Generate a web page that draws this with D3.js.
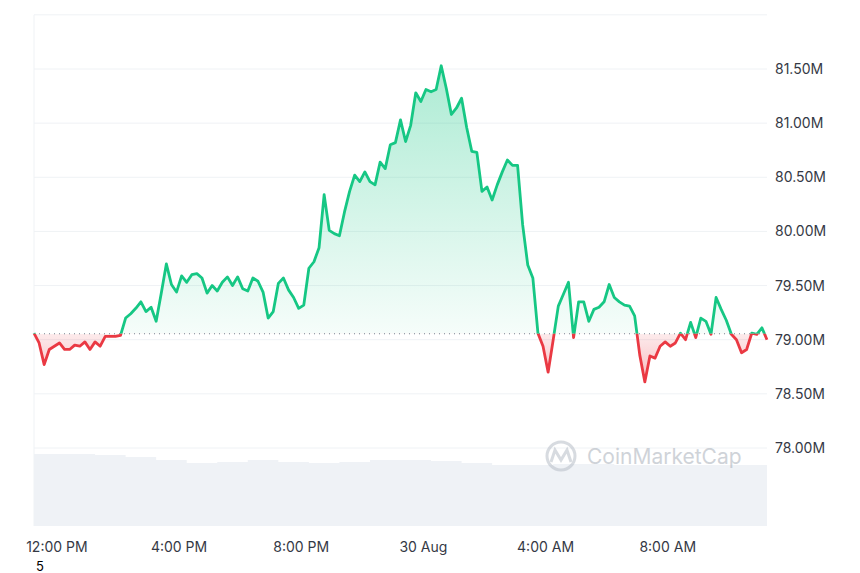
<!DOCTYPE html>
<html>
<head>
<meta charset="utf-8">
<script src="https://cdn.jsdelivr.net/npm/d3@7"></script>
<style>
  body { margin: 0; background: #fff; font-family: Inter, "Noto Sans", sans-serif; }
</style>
</head>
<body>
<div id="grafico"></div>
<script>
// precio cada 10 minutos, en millones
const precios = [79.06,78.97,78.77,78.91,78.94,78.97,78.91,78.91,78.95,78.94,78.98,78.91,78.98,78.94,79.03,79.03,79.03,79.04,79.20,79.24,
  79.29,79.35,79.26,79.30,79.17,79.43,79.70,79.51,79.44,79.59,79.53,79.60,79.61,79.57,79.43,79.50,79.45,79.53,79.58,79.50,
  79.58,79.47,79.45,79.57,79.54,79.44,79.20,79.26,79.52,79.57,79.46,79.39,79.29,79.32,79.66,79.72,79.85,80.34,80.01,79.98,
  79.96,80.18,80.37,80.52,80.46,80.55,80.46,80.43,80.64,80.58,80.80,80.82,81.03,80.83,80.98,81.28,81.20,81.31,81.29,81.31,
  81.53,81.32,81.08,81.14,81.23,80.96,80.74,80.73,80.37,80.41,80.29,80.43,80.55,80.66,80.61,80.61,80.06,79.69,79.57,79.06,
  78.94,78.70,79.00,79.31,79.42,79.53,79.02,79.35,79.35,79.17,79.28,79.30,79.35,79.51,79.39,79.35,79.32,79.31,79.22,78.86,
  78.61,78.85,78.83,78.94,78.98,78.94,78.97,79.06,79.00,79.16,79.02,79.20,79.17,79.05,79.39,79.28,79.18,79.05,79.00,78.88,
  78.91,79.06,79.05,79.11,79.00];
// volumen por hora (unidades relativas)
const volumen = [7.2,7.2,7.1,6.9,6.6,6.3,6.4,6.6,6.4,6.3,6.4,6.6,6.6,6.5,6.3,6.1,6.1,6.2,6.2,6.1,6.1,6.1,6.1,6.1,6.1];
const precioApertura = 79.055;
const ticksY = [78.0, 78.5, 79.0, 79.5, 80.0, 80.5, 81.0, 81.5, 82.0];
const inicio = new Date(2024, 7, 29, 11, 15);

const verde = '#16c784', rojo = '#ea3943';
const W = 860, H = 573;
const left = 34, right = 767, bottom = 526;

const datos = precios.map((p, i) => ({ t: new Date(+inicio + i * 600000), p }));
const datosVol = volumen.map((v, i) => ({ t: new Date(+inicio + i * 3600000), v }));

const x = d3.scaleTime().domain([inicio, datos[datos.length - 1].t]).range([left, right]);
const y = d3.scaleLinear().domain([78.0, 81.5]).range([448, 69]);
const yVol = d3.scaleLinear().domain([0, 7.3]).range([bottom, bottom - 73]);

const svg = d3.select('#grafico').append('svg').attr('width', W).attr('height', H);
const defs = svg.append('defs');

const gv = defs.append('linearGradient').attr('id', 'gv').attr('x1', 0).attr('x2', 0)
  .attr('gradientUnits', 'userSpaceOnUse').attr('y1', y(81.5)).attr('y2', y(precioApertura));
gv.append('stop').attr('offset', 0).attr('stop-color', verde).attr('stop-opacity', 0.35);
gv.append('stop').attr('offset', 1).attr('stop-color', verde).attr('stop-opacity', 0.04);
const gr = defs.append('linearGradient').attr('id', 'gr').attr('x1', 0).attr('x2', 0)
  .attr('gradientUnits', 'userSpaceOnUse').attr('y1', y(precioApertura)).attr('y2', y(78.6));
gr.append('stop').attr('offset', 0).attr('stop-color', rojo).attr('stop-opacity', 0.1);
gr.append('stop').attr('offset', 1).attr('stop-color', rojo).attr('stop-opacity', 0.35);

const yb = y(precioApertura);
defs.append('clipPath').attr('id', 'arriba').append('rect').attr('x', 0).attr('y', 0).attr('width', W).attr('height', yb);
defs.append('clipPath').attr('id', 'abajo').append('rect').attr('x', 0).attr('y', yb).attr('width', W).attr('height', H);

// rejilla
svg.append('g').selectAll('line').data(ticksY).join('line')
  .attr('x1', left).attr('x2', right).attr('y1', d => y(d)).attr('y2', d => y(d))
  .attr('stroke', '#eff2f5');
svg.append('line').attr('x1', left).attr('x2', left).attr('y1', y(82)).attr('y2', bottom).attr('stroke', '#eff2f5');

// volumen
svg.append('path').datum(datosVol)
  .attr('d', d3.area().x(d => x(d.t)).y0(bottom).y1(d => yVol(d.v)).curve(d3.curveStepAfter))
  .attr('fill', '#eff2f6');

// marca de agua
const wm = svg.append('g').attr('transform', 'translate(545,456)').attr('opacity', 0.55);
wm.append('circle').attr('cx', 16).attr('cy', 0).attr('r', 14).attr('fill', 'none').attr('stroke', '#b8bec8').attr('stroke-width', 3);
wm.append('path').attr('d', 'M6,6 L10,-6 L16,4 L22,-6 L26,6').attr('fill', 'none').attr('stroke', '#b8bec8').attr('stroke-width', 3);
wm.append('text').attr('x', 42).attr('y', 8).attr('font-size', 21).attr('fill', '#a9b0ba').text('CoinMarketCap');

// áreas
const area = d3.area().x(d => x(d.t)).y0(yb).y1(d => y(d.p));
svg.append('path').datum(datos).attr('d', area).attr('fill', 'url(#gv)').attr('clip-path', 'url(#arriba)');
svg.append('path').datum(datos).attr('d', area).attr('fill', 'url(#gr)').attr('clip-path', 'url(#abajo)');

// línea de apertura
svg.append('line').attr('x1', left).attr('x2', right).attr('y1', yb).attr('y2', yb)
  .attr('stroke', '#7a8291').attr('stroke-dasharray', '1,4');

const linea = d3.line().x(d => x(d.t)).y(d => y(d.p));
svg.append('path').datum(datos).attr('d', linea).attr('fill', 'none').attr('stroke', verde)
  .attr('stroke-width', 2.8).attr('stroke-linejoin', 'round').attr('clip-path', 'url(#arriba)');
svg.append('path').datum(datos).attr('d', linea).attr('fill', 'none').attr('stroke', rojo)
  .attr('stroke-width', 2.8).attr('stroke-linejoin', 'round').attr('clip-path', 'url(#abajo)');

// eje y
svg.append('g').selectAll('text').data(ticksY.filter(d => d < 82)).join('text')
  .attr('x', 775).attr('y', d => y(d) + 5).attr('font-size', 14).attr('fill', '#353945')
  .text(d => d.toFixed(2) + 'M');

// eje x
const fmt = d => d.getHours() === 0 ? d3.timeFormat('%-d %b')(d) : d3.timeFormat('%-I:%M %p')(d);
svg.append('g').selectAll('text').data(x.ticks(d3.timeHour.every(4))).join('text')
  .attr('x', d => x(d)).attr('y', 552).attr('text-anchor', 'middle').attr('font-size', 14).attr('fill', '#353945')
  .text(fmt);
svg.append('text').attr('x', 36).attr('y', 571).attr('font-size', 13).attr('fill', '#000').text('5');
</script>
</body>
</html>
